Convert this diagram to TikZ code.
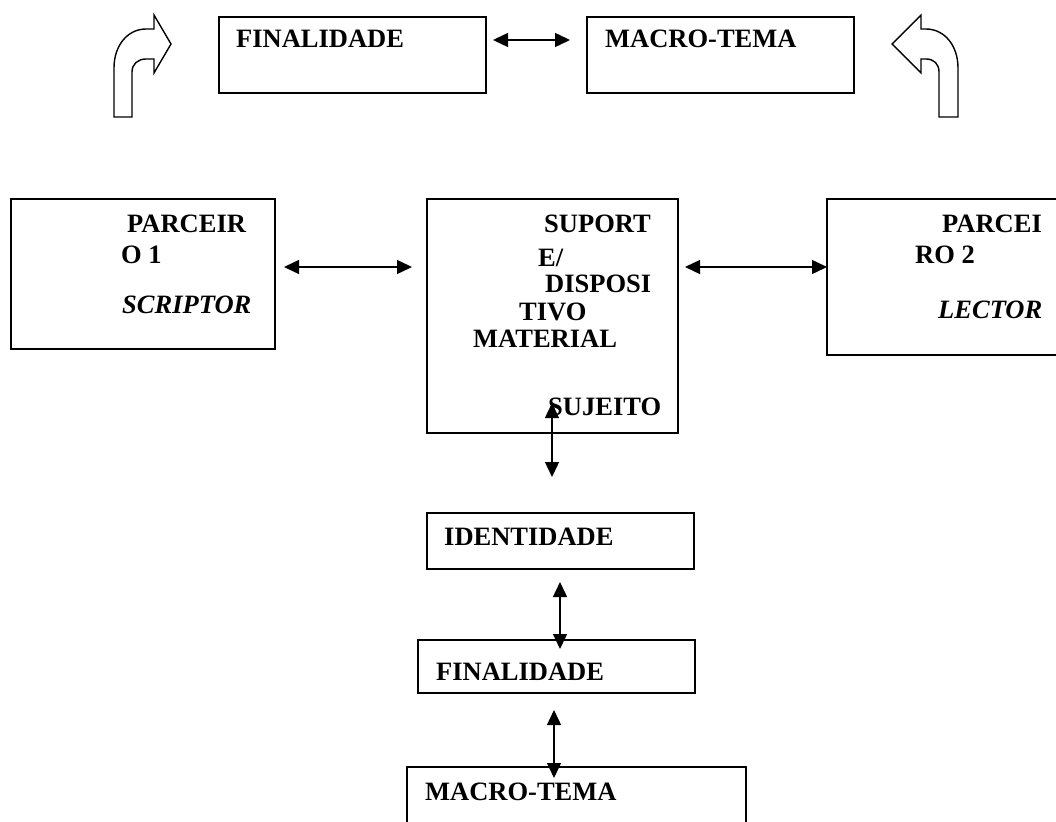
\documentclass[tikz,border=0pt]{standalone}
\usepackage{fontspec}
\setmainfont{Liberation Serif}
\usetikzlibrary{arrows.meta}
\begin{document}
\begin{tikzpicture}[x=1pt,y=-1pt,
  box/.style={draw, line width=1.4pt, rectangle, inner sep=0pt, outer sep=0pt},
  lbl/.style={anchor=base west, inner sep=0pt, font=\fontsize{26.5}{30}\selectfont\bfseries},
  ilbl/.style={anchor=base west, inner sep=0pt, font=\fontsize{26.5}{30}\selectfont\bfseries\itshape},
  link/.style={line width=1.4pt, {Triangle[length=15pt,width=14pt]}-{Triangle[length=15pt,width=14pt]}},
  bent/.style={draw, line width=1.4pt, fill=white, line join=miter}]
\useasboundingbox (0,0) rectangle (1056,821);
\clip (0,0) rectangle (1056,821);

% top row
\node[box, minimum width=267pt, minimum height=76pt] (tfin) at (352.5,55) {};
\node[box, minimum width=267pt, minimum height=76pt] (tmac) at (720.5,55) {};
\node[lbl] (tfint) at (236,48) {FINALIDADE};
\node[lbl] (tmact) at (605,48) {MACRO-TEMA};
\coordinate (ta) at (493,40);
\coordinate (tb) at (570,40);
\draw[link] (ta) -- (tb);

% bent arrows
\path[bent] (114,117) -- (114,68) .. controls (114,45) and (128,29) .. (146,29)
  -- (154,29) -- (154,15) -- (171,44) -- (154,73) -- (154,59) -- (146,59)
  .. controls (138,59) and (132,64) .. (132,72) -- (132,117) -- cycle;
\path[bent] (958,117) -- (958,68) .. controls (958,45) and (944,29) .. (926,29)
  -- (921,29) -- (921,15) -- (892,44) -- (921,73) -- (921,59) -- (926,59)
  .. controls (934,59) and (939,64) .. (939,72) -- (939,117) -- cycle;

% middle row
\node[box, minimum width=264pt, minimum height=150pt] (p1) at (143,274) {};
\node[box, minimum width=251pt, minimum height=234pt] (sup) at (552.5,316) {};
\node[box, minimum width=243pt, minimum height=156pt] (p2) at (948.5,277) {};

\node[lbl] (p1a) at (127,232) {PARCEIR};
\node[lbl] (p1b) at (121,263) {O 1};
\node[ilbl] (p1c) at (122,313) {SCRIPTOR};

\node[lbl] (s1) at (544,232) {SUPORT};
\node[lbl] (s2) at (538,266) {E/};
\node[lbl] (s3) at (545,292) {DISPOSI};
\node[lbl] (s4) at (519,320) {TIVO};
\node[lbl] (s5) at (473,347) {MATERIAL};
\node[lbl] (s6) at (548,415) {SUJEITO};

\node[lbl] (p2a) at (942,232) {PARCEI};
\node[lbl] (p2b) at (915,263) {RO 2};
\node[ilbl] (p2c) at (938,318) {LECTOR};

\coordinate (la) at (284,267);
\coordinate (lb) at (412,267);
\coordinate (ra) at (685,267);
\coordinate (rb) at (827,267);
\draw[link] (la) -- (lb);
\draw[link] (ra) -- (rb);

% lower column
\node[box, minimum width=267pt, minimum height=56pt] (ident) at (560.5,541) {};
\node[box, minimum width=277pt, minimum height=53pt] (fin) at (556.5,666.5) {};
\node[box, minimum width=339pt, minimum height=80pt] (mac) at (576.5,807) {};
\node[lbl] (identt) at (444,545) {IDENTIDADE};
\node[lbl] (fint) at (436,680) {FINALIDADE};
\node[lbl] (mact) at (425,800) {MACRO-TEMA};

\coordinate (va) at (552,403);
\coordinate (vb) at (552,477);
\coordinate (wa) at (560,582);
\coordinate (wb) at (560,649);
\coordinate (ua) at (554,710);
\coordinate (ub) at (554,778);
\draw[link] (va) -- (vb);
\draw[link] (wa) -- (wb);
\draw[link] (ua) -- (ub);
\end{tikzpicture}
\end{document}
